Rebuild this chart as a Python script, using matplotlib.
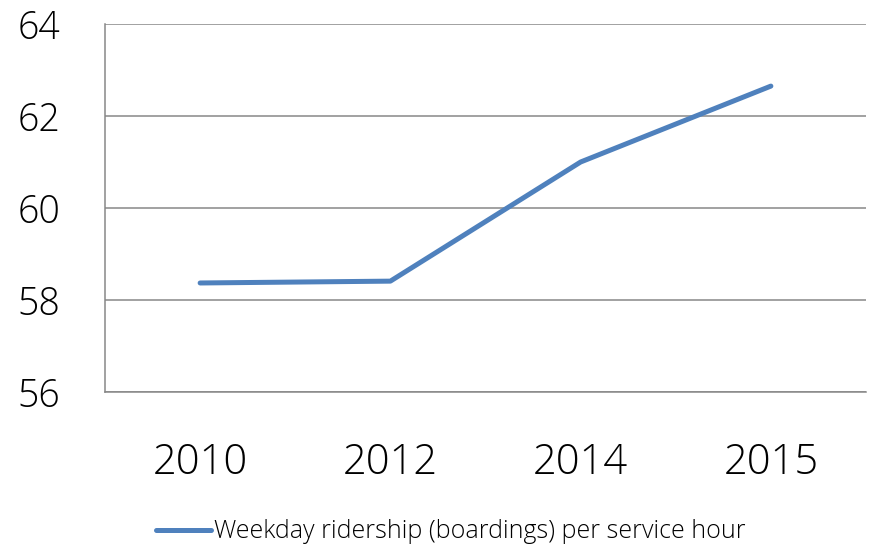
import matplotlib
matplotlib.use("Agg")
from matplotlib import pyplot as plt
import numpy as np

years = ["2010", "2012", "2014", "2015"]
ridership = [58.37, 58.41, 61.0, 62.65]
y_ticks = [56, 58, 60, 62, 64]

plt.rcParams['font.family'] = ['Open Sans', 'DejaVu Sans']

fig = plt.figure(figsize=(8.73, 5.48), dpi=100)
ax = fig.add_axes([105 / 873, 156 / 548, 761 / 873, 368 / 548])

x = np.arange(len(years))
line, = ax.plot(x, ridership, color='#4F81BD', lw=3.6, solid_capstyle='round',
                label='Weekday ridership (boardings) per service hour')

ax.set_xlim(-0.5, len(years) - 0.5)
ax.set_ylim(56, 64)
ax.set_yticks(y_ticks)
ax.set_xticks(x)
ax.set_xticklabels(years)
ax.grid(axis='y', color='#878787', lw=1.1)
ax.set_axisbelow(True)
for s in ['top', 'right']:
    ax.spines[s].set_visible(False)
for s in ['left', 'bottom']:
    ax.spines[s].set_color('#878787')
    ax.spines[s].set_linewidth(1.1)
ax.tick_params(axis='y', length=0, pad=32, labelsize=27, labelcolor='#000000')
ax.tick_params(axis='x', length=0, pad=36, labelsize=30, labelcolor='#000000')
for lab in ax.get_xticklabels() + ax.get_yticklabels():
    lab.set_fontweight('light')

leg = fig.legend(handles=[line], loc='center', bbox_to_anchor=(451 / 873, 1 - 532 / 548),
                 frameon=False, handlelength=2.2, handletextpad=0.1,
                 prop={'weight': 'light', 'size': 18})

fig.savefig('out.png', dpi=100)
